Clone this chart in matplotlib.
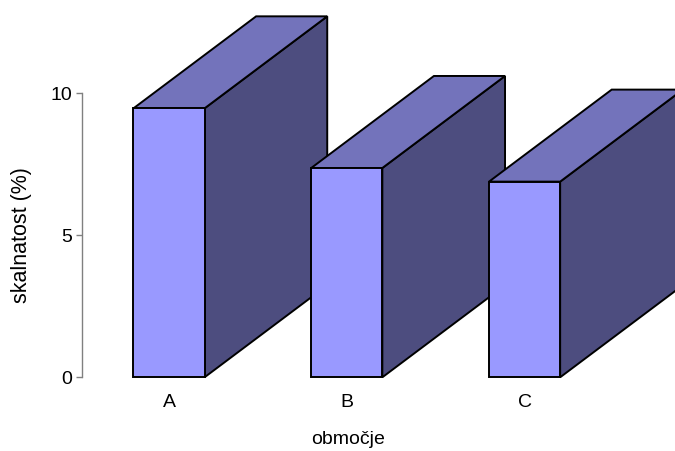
import matplotlib
matplotlib.use("Agg")
import matplotlib.pyplot as plt
from matplotlib.patches import Polygon

# Data
categories = ["A", "B", "C"]
values = [9.47, 7.37, 6.89]
yticks = [0, 5, 10]

# Style
front_color = "#9999FF"
top_color = "#7373BB"
side_color = "#4D4D7F"
bar_width = 0.4
depth_dx = 0.69   # depth offset in category units
depth_dy = 3.24   # depth offset in value units

plt.rcParams["font.family"] = ["Liberation Sans", "DejaVu Sans"]

W, H = 675, 451
fig = plt.figure(figsize=(W / 100, H / 100), dpi=100)
left_px, right_px = 81.7, 675
bottom_px, top_px = 377.3, 93.3
ax = fig.add_axes([left_px / W, (H - bottom_px) / H,
                   (right_px - left_px) / W, (bottom_px - top_px) / H])
ax.set_xlim(-0.491, 2.846)
ax.set_ylim(0, 10)

for i, (cat, v) in enumerate(zip(categories, values)):
    x0 = i - bar_width / 2
    x1 = i + bar_width / 2
    kw = dict(edgecolor="black", linewidth=1.4, clip_on=False, joinstyle="miter")
    front = Polygon([(x0, 0), (x1, 0), (x1, v), (x0, v)], facecolor=front_color, **kw)
    top = Polygon([(x0, v), (x1, v), (x1 + depth_dx, v + depth_dy), (x0 + depth_dx, v + depth_dy)],
                  facecolor=top_color, **kw)
    side = Polygon([(x1, 0), (x1 + depth_dx, depth_dy), (x1 + depth_dx, v + depth_dy), (x1, v)],
                   facecolor=side_color, **kw)
    ax.add_patch(side)
    ax.add_patch(top)
    ax.add_patch(front)

for s in ["top", "right", "bottom"]:
    ax.spines[s].set_visible(False)
ax.spines["left"].set_color("#808080")
ax.spines["left"].set_linewidth(1.0)
ax.set_yticks(yticks)
ax.set_yticklabels([str(t) for t in yticks])
ax.tick_params(axis="y", length=4, width=1.0, color="#808080", pad=3, labelsize=14)
ax.set_xticks(range(len(categories)))
ax.set_xticklabels(categories)
ax.tick_params(axis="x", length=0, pad=12, labelsize=14)
ax.patch.set_visible(False)

fig.text(22 / W, 1 - 235 / H, "skalnatost (%)", rotation=90, ha="center", va="center", fontsize=15.5)
fig.text(348 / W, 1 - 440 / H, "območje", ha="center", va="center", fontsize=14)

fig.savefig("out.png", dpi=100)
